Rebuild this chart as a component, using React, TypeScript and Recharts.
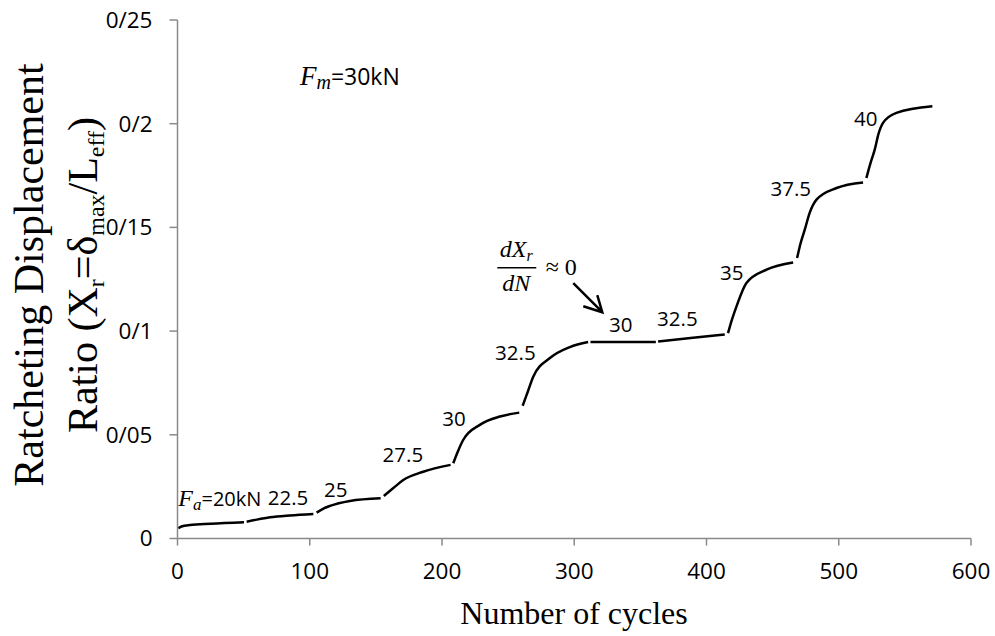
import { LineChart, Line, XAxis, YAxis, ReferenceDot } from 'recharts';

// load steps (kN) and the measured curve of each step
const stepLoads = ['20', '22.5', '25', '27.5', '30', '32.5', '30', '32.5', '35', '37.5', '40'];

const stepCycles = [
  [0.6, 3, 9.4, 25, 50.3],
  [52.3, 60, 70, 85, 102.7],
  [105.2, 110, 115.3, 130.4, 153.6],
  [156, 163, 170.7, 185.8, 206.5],
  [208.5, 212, 216, 228.6, 243.8, 258.4],
  [261, 265, 269, 281.6, 296.7, 310.5],
  [312.3, 336, 361.7],
  [363.4, 388, 413.8],
  [416.3, 419, 422.7, 430.2, 445.4, 465.5],
  [468.5, 471, 474.3, 478, 483.2, 498.3, 518.4],
  [520.9, 524, 527.2, 530, 533.5, 543.6, 570.8],
];

const stepRatio = [
  [0.0049, 0.0058, 0.0065, 0.0071, 0.0078],
  [0.0081, 0.0091, 0.0102, 0.0111, 0.0118],
  [0.0125, 0.0143, 0.0157, 0.0181, 0.0194],
  [0.0205, 0.0242, 0.0282, 0.0322, 0.0355],
  [0.0363, 0.042, 0.0475, 0.0548, 0.0588, 0.0607],
  [0.064, 0.071, 0.078, 0.087, 0.0923, 0.0947],
  [0.0947, 0.0947, 0.0947],
  [0.095, 0.0967, 0.0984],
  [0.099, 0.105, 0.1119, 0.1232, 0.1296, 0.1331],
  [0.1352, 0.142, 0.1489, 0.157, 0.1634, 0.169, 0.1717],
  [0.1738, 0.181, 0.1875, 0.195, 0.2004, 0.2052, 0.2084],
];

// where the load labels sit (cycles, ratio) for steps 2..11
const labelCycles = [83.6, 119.6, 170.4, 209, 255.5, 335.2, 378, 419.1, 463.7, 520.4];
const labelRatio = [0.0195, 0.0234, 0.0403, 0.058, 0.0897, 0.103, 0.1058, 0.128, 0.1685, 0.2023];

const xTicks = [0, 100, 200, 300, 400, 500, 600];
const yTicks = [0, 0.05, 0.1, 0.15, 0.2, 0.25];

const segments = stepCycles.map((xs, i) => xs.map((x, j) => ({ x, y: stepRatio[i][j] })));

const AXIS = '#8a8a8a';
const SANS = "'Open Sans', sans-serif";
const SERIF = "'Liberation Serif', 'Times New Roman', serif";

const fmtRatio = (v: number) => (v === 0 ? '0' : String(v).replace('0.', '0/'));

const YTitle = () => {
  const cy = 275;
  return (
    <g fontFamily={SERIF} fontSize={42} fill="#000">
      <text x={43} y={cy} textAnchor="middle" transform={`rotate(-90 43 ${cy})`}>
        Ratcheting Displacement
      </text>
      <text x={97} y={cy} textAnchor="middle" transform={`rotate(-90 97 ${cy})`}>
        Ratio (X
        <tspan fontSize={24} dy={7}>r</tspan>
        <tspan dy={-7}>=δ</tspan>
        <tspan fontSize={24} dy={7}>max</tspan>
        <tspan dy={-7}>/L</tspan>
        <tspan fontSize={24} dy={7}>eff</tspan>
        <tspan dy={-7}>)</tspan>
      </text>
    </g>
  );
};

const XTitle = () => (
  <text x={574} y={624} textAnchor="middle" fontFamily={SERIF} fontSize={32} fill="#000">
    Number of cycles
  </text>
);

const ForceLabel = ({ cx, cy, sub, value, size }: any) => (
  <text x={cx} y={cy} fill="#000">
    <tspan fontFamily={SERIF} fontStyle="italic" fontSize={size + 4}>F</tspan>
    <tspan fontFamily={SERIF} fontStyle="italic" fontSize={size - 3} dy={4}>{sub}</tspan>
    <tspan fontFamily={SANS} fontSize={size} dy={-4}>{value}</tspan>
  </text>
);

// dXr/dN ≈ 0 with arrow, drawn relative to the arrow tip
const SlopeNote = ({ cx, cy }: any) => (
  <g fill="#000">
    <text x={cx - 86} y={cy - 55} textAnchor="middle" fontFamily={SERIF} fontStyle="italic" fontSize={24}>
      dX<tspan fontSize={16} dy={4}>r</tspan>
    </text>
    <line x1={cx - 105} y1={cy - 44.5} x2={cx - 66} y2={cy - 44.5} stroke="#000" strokeWidth={1.5} />
    <text x={cx - 86} y={cy - 21} textAnchor="middle" fontFamily={SERIF} fontStyle="italic" fontSize={24}>
      dN
    </text>
    <text x={cx - 41} y={cy - 37} textAnchor="middle" fontFamily={SERIF} fontSize={24}>≈ 0</text>
    <path
      d={`M${cx - 29} ${cy - 29} L${cx} ${cy} M${cx - 19} ${cy - 6} L${cx} ${cy} L${cx - 5} ${cy - 17}`}
      stroke="#000"
      strokeWidth={2.5}
      fill="none"
    />
  </g>
);

export default function App() {
  return (
    <div style={{ position: 'absolute', left: 0, top: 0, background: '#fff' }}>
      <LineChart width={995} height={636} margin={{ top: 20, right: 24, bottom: 0, left: 0 }}>
        <XAxis
          type="number"
          dataKey="x"
          domain={[0, 600]}
          ticks={xTicks}
          height={97.5}
          tickSize={7}
          tickMargin={18}
          axisLine={{ stroke: AXIS, strokeWidth: 1.5 }}
          tickLine={{ stroke: AXIS, strokeWidth: 1.5 }}
          tick={{ fill: '#000', fontSize: 22.5, fontFamily: SANS }}
          label={<XTitle />}
        />
        <YAxis
          type="number"
          dataKey="y"
          domain={[0, 0.25]}
          ticks={yTicks}
          width={177.5}
          tickSize={8}
          tickMargin={17}
          tickFormatter={fmtRatio}
          axisLine={{ stroke: AXIS, strokeWidth: 1.5 }}
          tickLine={{ stroke: AXIS, strokeWidth: 1.5 }}
          tick={{ fill: '#000', fontSize: 22.5, fontFamily: SANS }}
          label={<YTitle />}
        />

        {segments.map((seg, i) => (
          <Line
            key={i}
            data={seg}
            dataKey="y"
            type="monotone"
            stroke="#000"
            strokeWidth={2.5}
            dot={false}
            activeDot={false}
            isAnimationActive={false}
          />
        ))}

        {labelCycles.map((x, i) => (
          <ReferenceDot
            key={`l${i}`}
            x={x}
            y={labelRatio[i]}
            r={0}
            shape={(p: any) => (
              <text x={p.cx} y={p.cy} dy="0.36em" textAnchor="middle" fontFamily={SANS} fontSize={20.5} fill="#000">
                {stepLoads[i + 1]}
              </text>
            )}
          />
        ))}

        <ReferenceDot
          x={0.6}
          y={0.0157}
          r={0}
          shape={(p: any) => <ForceLabel cx={p.cx} cy={p.cy} sub="a" value={`=${stepLoads[0]}kN`} size={20} />}
        />
        <ReferenceDot
          x={92.6}
          y={0.2189}
          r={0}
          shape={(p: any) => <ForceLabel cx={p.cx} cy={p.cy} sub="m" value="=30kN" size={23} />}
        />
        <ReferenceDot x={321.2} y={0.1091} r={0} shape={(p: any) => <SlopeNote cx={p.cx} cy={p.cy} />} />
      </LineChart>
    </div>
  );
}
